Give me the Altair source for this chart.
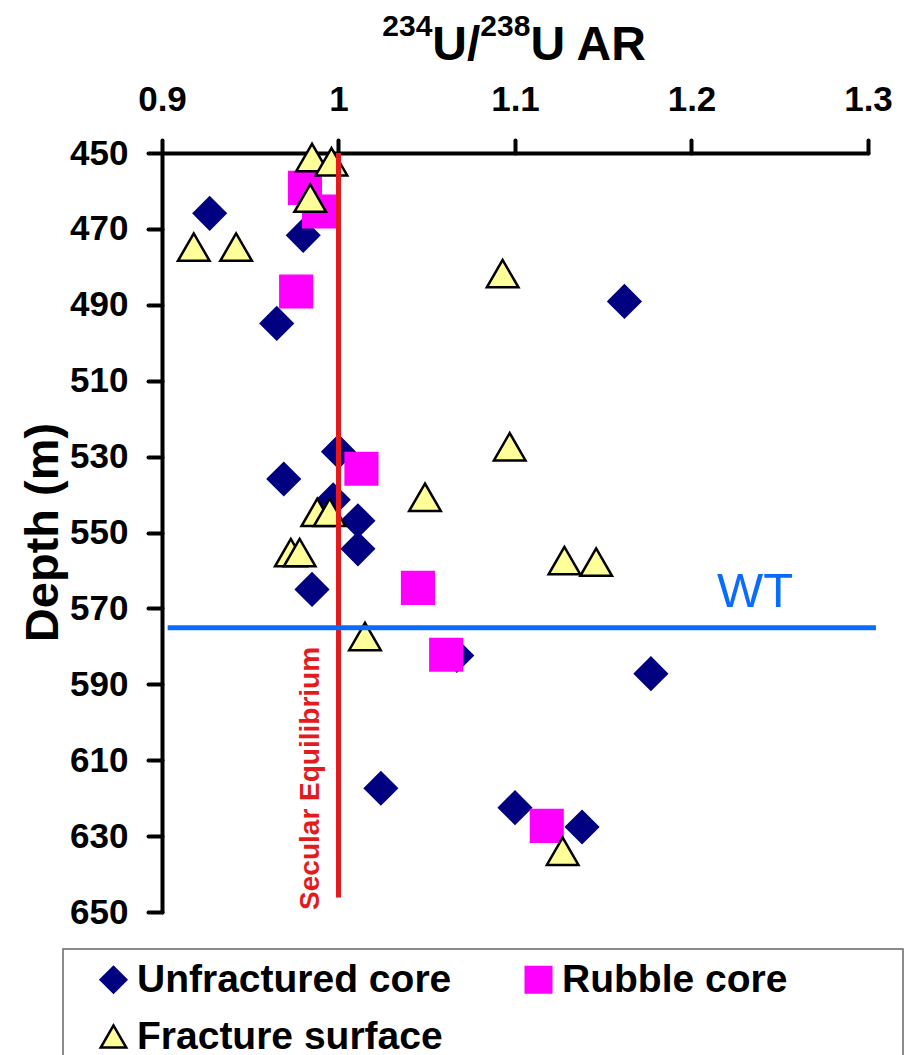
import altair as alt
import pandas as pd

FONT = "Liberation Sans"

series_names = ["Unfractured core", "Rubble core", "Fracture surface"]

unfractured_x = [0.927, 0.980, 0.965, 1.162, 1.000, 0.969, 0.997, 1.011, 1.011, 0.985, 1.067, 1.177, 1.024, 1.100, 1.138]
unfractured_depth = [465.9, 471.7, 494.9, 489.1, 528.7, 535.9, 541.4, 546.9, 554.3, 565.0, 582.4, 587.2, 617.4, 622.5, 627.6]

rubble_x = [0.981, 0.989, 0.976, 1.013, 1.045, 1.061, 1.118]
rubble_depth = [459.2, 465.4, 486.5, 533.2, 564.6, 582.2, 627.3]

fracture_x = [0.985, 0.996, 0.984, 0.918, 0.942, 1.093, 1.097, 1.049, 0.988, 0.995, 0.973, 0.978, 1.128, 1.146, 1.015, 1.127]
fracture_depth = [451.2, 452.3, 461.9, 474.8, 474.8, 481.8, 527.4, 540.7, 544.7, 544.7, 555.3, 555.3, 557.4, 557.8, 577.4, 634.0]

x_ticks = [0.9, 1.0, 1.1, 1.2, 1.3]
y_ticks = [450, 470, 490, 510, 530, 550, 570, 590, 610, 630, 650]

secular_x = 1.0
secular_depth = [450, 646.2]
wt_depth = 575.1
wt_x = [0.9032, 1.3045]

# x-axis title pieces: (text, is_superscript)
title_parts = [("234", True), ("U/", False), ("238", True), ("U AR", False)]

rows = []
for name, xs, ds in [(series_names[0], unfractured_x, unfractured_depth),
                     (series_names[1], rubble_x, rubble_depth),
                     (series_names[2], fracture_x, fracture_depth)]:
    for xv, dv in zip(xs, ds):
        rows.append({"series": name, "ar": xv, "depth": dv})
df = pd.DataFrame(rows)
df["order"] = df["series"].map({n: i for i, n in enumerate(series_names)})

W, H = 706, 759
xscale = alt.Scale(domain=[0.9, 1.3], nice=False, zero=False)
yscale = alt.Scale(domain=[450, 650], nice=False, zero=False, reverse=True)

points = alt.Chart(df).mark_point(filled=True, opacity=1, size=1000, strokeWidth=2.5, strokeJoin="miter").encode(
    x=alt.X("ar:Q", scale=xscale,
            axis=alt.Axis(orient="top", values=x_ticks, format="~g", title="",
                          labelPadding=23, tickSize=13, labelFlush=False)),
    y=alt.Y("depth:Q", scale=yscale,
            axis=alt.Axis(values=y_ticks, title="Depth (m)",
                          titleFontSize=47, titleFontWeight="bold", titleFont=FONT,
                          titleX=-105, titleY=379, titleAngle=270, titleBaseline="alphabetic",
                          titleAlign="center", labelPadding=20, tickSize=14, labelFlush=False)),
    fill=alt.Fill("series:N", scale=alt.Scale(domain=series_names, range=["#000080", "#FF00FF", "#FFFF99"]),
                  legend=alt.Legend(title=None, orient="none", legendX=-68, legendY=807, columns=2,
                                    direction="horizontal",
                                    labelFont=FONT, labelFontSize=39, labelFontWeight="bold",
                                    labelColor="black", labelLimit=600, labelOffset=4,
                                    symbolSize=650, symbolStrokeWidth=2.5, columnPadding=67,
                                    rowPadding=17)),
    shape=alt.Shape("series:N", scale=alt.Scale(domain=series_names, range=["diamond", "square", "triangle-up"])),
    stroke=alt.Stroke("series:N", scale=alt.Scale(domain=series_names, range=["#000080", "#FF00FF", "#000000"])),
    order=alt.Order("order:Q"),
)

red_df = pd.DataFrame({"x": [secular_x], "y": [secular_depth[0]], "y2": [secular_depth[1]]})
red_rule = alt.Chart(red_df).mark_rule(color="#E41A1C", strokeWidth=5).encode(
    x="x:Q", y="y:Q", y2="y2:Q")

blue_df = pd.DataFrame({"x": [wt_x[0]], "x2": [wt_x[1]], "y": [wt_depth]})
blue_rule = alt.Chart(blue_df).mark_rule(color="#0A6CFF", strokeWidth=5).encode(
    x="x:Q", x2="x2:Q", y="y:Q")

wt_df = pd.DataFrame({"x": [1.236], "y": [565.6], "t": ["WT"]})
wt_text = alt.Chart(wt_df).mark_text(font=FONT, fontSize=49, color="#0A6CFF", align="center",
                                     baseline="middle").encode(x="x:Q", y="y:Q", text="t:N")

sec_df = pd.DataFrame({"x": [0.9843], "y": [614.8], "t": ["Secular Equilibrium"]})
sec_text = alt.Chart(sec_df).mark_text(font=FONT, fontSize=28, fontWeight="bold", color="#E41A1C",
                                       angle=270, align="center", baseline="middle").encode(
    x="x:Q", y="y:Q", text="t:N")

# title built from pieces (superscript mass numbers)
BIG, SMALL = 48, 30
adv = {"2": .556, "3": .556, "4": .556, "8": .556, "U": .722, "/": .278, " ": .278, "A": .722, "R": .722}
widths = [sum(adv[c] for c in t) * (SMALL if sup else BIG) for t, sup in title_parts]
total = sum(widths)
start = 515 - 162 - total / 2
title_layers = []
cur = start
for (t, sup), w in zip(title_parts, widths):
    title_layers.append(
        alt.Chart(pd.DataFrame({"t": [t]})).mark_text(
            font=FONT, fontWeight="bold", fontSize=SMALL if sup else BIG, color="black",
            align="left", baseline="alphabetic").encode(
            x=alt.value(cur), y=alt.value(-117 if sup else -93), text="t:N"))
    cur += w

box = alt.Chart(pd.DataFrame({"k": [0]})).mark_rect(fillOpacity=0, stroke="#666666", strokeWidth=1.5).encode(
    x=alt.value(-99), x2=alt.value(741), y=alt.value(796), y2=alt.value(1000))

chart = alt.layer(box, points, red_rule, blue_rule, wt_text, sec_text, *title_layers).properties(
    width=W, height=H,
    autosize=alt.AutoSizeParams(type="none"),
    padding={"left": 162, "top": 153, "right": 45, "bottom": 143},
    background="white",
).configure_view(stroke=None).configure_axis(
    grid=False,
    domainColor="black", domainWidth=4, domainCap="round",
    tickColor="black", tickWidth=4, tickCap="round",
    labelFont=FONT, labelFontSize=35, labelFontWeight="bold", labelColor="black",
    titleColor="black",
)

chart.save("out.html", embed_options={"renderer": "svg", "actions": False})
